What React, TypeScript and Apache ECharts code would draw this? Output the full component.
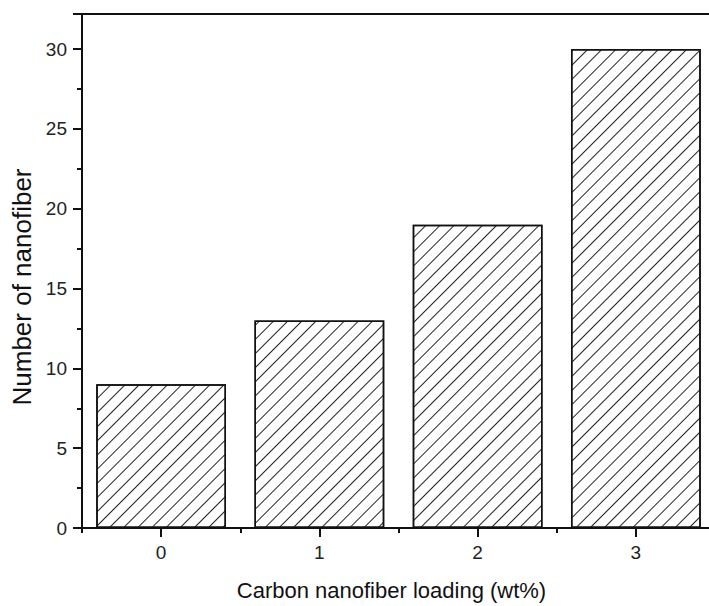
import React, { useEffect, useRef } from "react";
import * as echarts from "echarts";

const categories = ["0", "1", "2", "3"];
const nanofiberCounts = [9, 13, 19, 30];
const xAxisTitle = "Carbon nanofiber loading (wt%)";
const yAxisTitle = "Number of nanofiber";

export default function App() {
  const ref = useRef<HTMLDivElement>(null);
  useEffect(() => {
    if (!ref.current) return;
    const chart = echarts.init(ref.current, undefined, { renderer: "svg" });
    const font = "'Liberation Sans', Arial, sans-serif";
    chart.setOption({
      animation: false,
      backgroundColor: "#fff",
      grid: {
        left: 82,
        right: 15,
        top: 14,
        bottom: 78,
        show: true,
        borderColor: "#111",
        borderWidth: 2,
        backgroundColor: "transparent",
      },
      xAxis: [
        {
          type: "category",
          data: categories,
          position: "bottom",
          name: xAxisTitle,
          nameLocation: "middle",
          nameGap: 51,
          nameTextStyle: { fontFamily: font, fontSize: 22, color: "#111", padding: [0, 14, 0, 0] },
          axisLine: { show: true, lineStyle: { color: "#111", width: 2 } },
          axisTick: { show: true, alignWithLabel: true, length: 9, lineStyle: { color: "#111", width: 2 } },
          axisLabel: { fontFamily: font, fontSize: 19, color: "#222", margin: 15 },
          splitLine: { show: false },
        },
        {
          type: "category",
          data: categories,
          position: "bottom",
          axisLine: { show: false },
          axisTick: { show: true, length: 5, lineStyle: { color: "#111", width: 2 } },
          axisLabel: { show: false },
          splitLine: { show: false },
        },
      ],
      yAxis: {
        type: "value",
        min: 0,
        max: 32.2,
        interval: 5,
        name: yAxisTitle,
        nameLocation: "middle",
        nameGap: 43,
        nameTextStyle: { fontFamily: font, fontSize: 26, color: "#111", padding: [0, 32, 0, 0] },
        axisLine: { show: true, lineStyle: { color: "#111", width: 2 } },
        axisTick: { show: true, length: 9, lineStyle: { color: "#111", width: 2 } },
        minorTick: { show: true, splitNumber: 2, length: 5, lineStyle: { color: "#111", width: 2 } },
        axisLabel: { fontFamily: font, fontSize: 19, color: "#222", margin: 15, showMaxLabel: false },
        splitLine: { show: false },
      },
      series: [
        {
          type: "bar",
          data: nanofiberCounts,
          barWidth: "82%",
          itemStyle: {
            color: "#fff",
            borderColor: "#111",
            borderWidth: 1.5,
            decal: {
              symbol: "rect",
              symbolSize: 1,
              dashArrayX: [1, 0],
              dashArrayY: [0.8, 8.6],
              rotation: -Math.PI / 4,
              color: "#222",
              backgroundColor: "#fff",
            },
          },
        },
      ],
    });
    return () => chart.dispose();
  }, []);
  return (
    <div style={{ width: 709, height: 606, position: "fixed", left: 0, top: 0, overflow: "hidden" }}>
      <div ref={ref} style={{ width: 730, height: 606 }} />
    </div>
  );
}
